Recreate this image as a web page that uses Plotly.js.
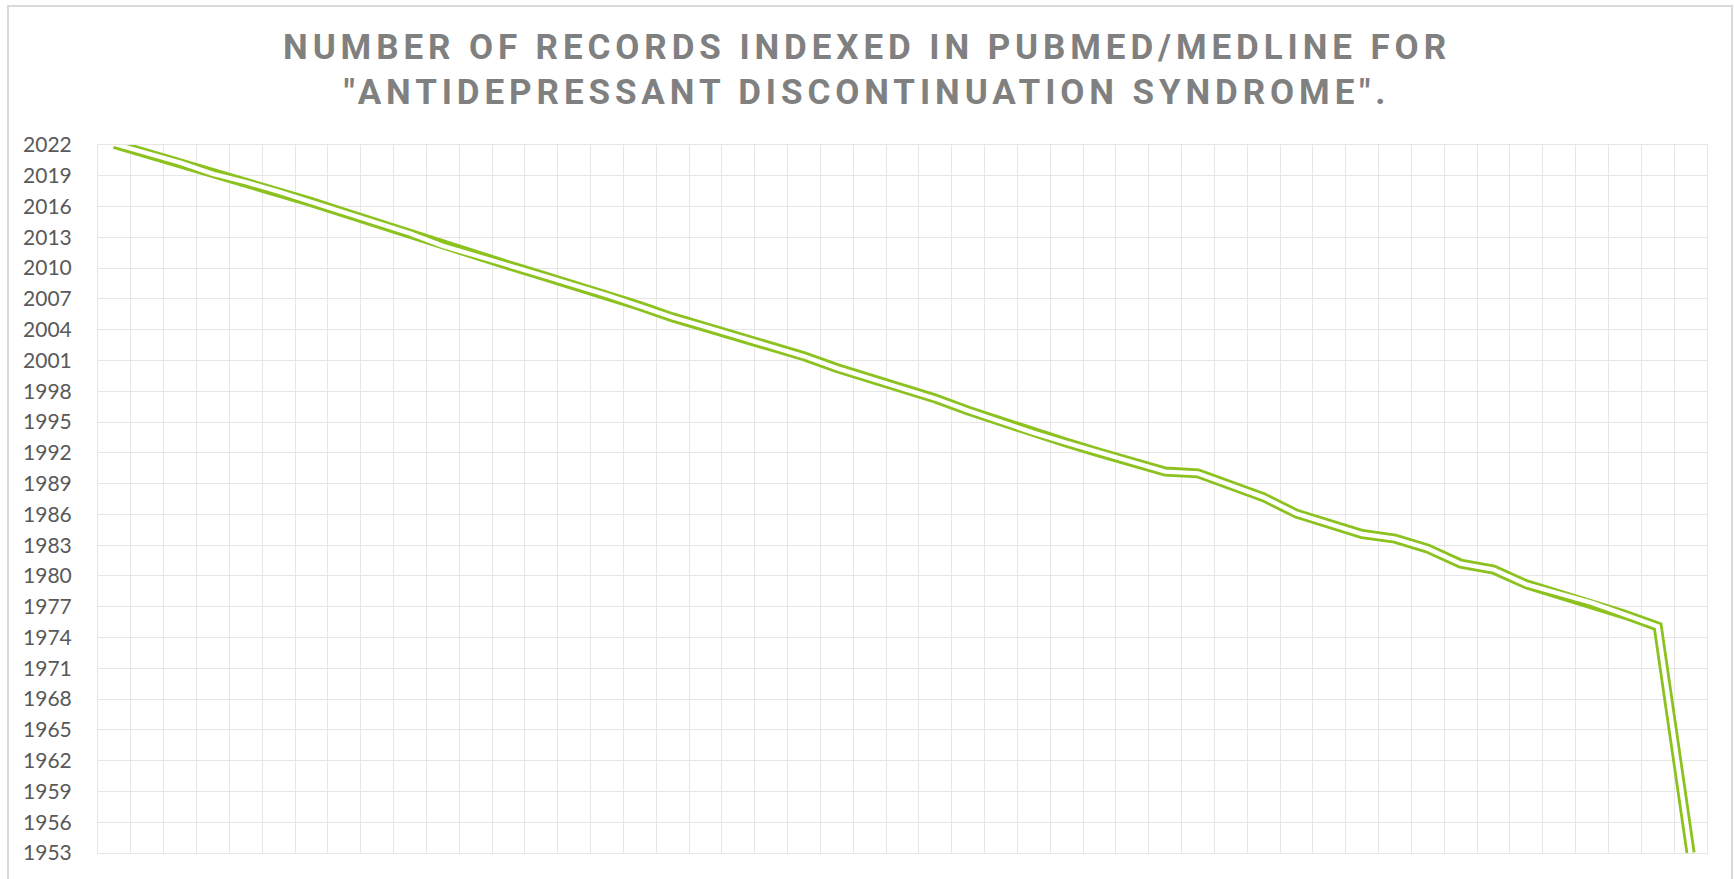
<!DOCTYPE html>
<html>
<head>
<meta charset="utf-8">
<script src="https://cdn.plot.ly/plotly-3.0.1.min.js"></script>
<style>
  html, body { margin: 0; padding: 0; background: #ffffff; }
  #chart { width: 1734px; height: 879px; }
</style>
</head>
<body>
<div id="chart"></div>
<script>
// Category positions (rows of the source table; the chart shows no category labels)
const categoryIndex = [0,1,2,3,4,5,6,7,8,9,10,11,12,13,14,15,16,17,18,19,20,21,22,23,24,25,26,27,28,29,30,31,32,33,34,35,36,37,38,39,40,41,42,43,44,45,46,47,48];

// Plotted values
const seriesValues = [
  2022.1, 2021.19, 2020.29, 2019.19, 2018.38, 2017.45, 2016.43, 2015.39, 2014.35, 2013.39,
  2012.17, 2011.26, 2010.28, 2009.31, 2008.37, 2007.36, 2006.30, 2005.20, 2004.27, 2003.33,
  2002.42, 2001.41, 2000.26, 1999.30, 1998.29, 1997.29, 1996.11, 1994.98, 1993.94, 1992.97,
  1992.00, 1991.08, 1990.17, 1990.00, 1988.85, 1987.66, 1986.07, 1985.10, 1984.09, 1983.64,
  1982.66, 1981.20, 1980.62, 1979.18, 1978.27, 1977.38, 1976.23, 1975.08, 1953.0
];

// Value axis ticks
const yTickValues = [1953,1956,1959,1962,1965,1968,1971,1974,1977,1980,1983,1986,1989,1992,1995,1998,2001,2004,2007,2010,2013,2016,2019,2022];

const titleText = 'NUMBER OF RECORDS INDEXED IN PUBMED/MEDLINE FOR<br>"ANTIDEPRESSANT DISCONTINUATION SYNDROME".';

const green = '#8cc21f';

const traces = [
  { x: categoryIndex, y: seriesValues, type: 'scatter', mode: 'lines',
    line: { color: green, width: 10 }, hoverinfo: 'skip', showlegend: false },
  { x: categoryIndex, y: seriesValues, type: 'scatter', mode: 'lines',
    line: { color: '#ffffff', width: 4.4 }, hoverinfo: 'skip', showlegend: false }
];

const gridColor = '#e6e6e6';

const layout = {
  width: 1734, height: 879,
  paper_bgcolor: '#ffffff', plot_bgcolor: '#ffffff',
  margin: { l: 98, r: 27, t: 145, b: 26, pad: 0 },
  showlegend: false,
  title: {
    text: titleText,
    x: 0.5, xref: 'container', xanchor: 'center',
    y: 0.933, yref: 'container', yanchor: 'top',
    font: { family: 'Roboto, "Open Sans", sans-serif', size: 35, color: '#808080', weight: 'bold' }
  },
  xaxis: {
    range: [-0.5, 48.5], tick0: -0.5, dtick: 1,
    showgrid: true, gridcolor: gridColor, gridwidth: 1,
    showticklabels: false, ticks: '', zeroline: false,
    showline: true, mirror: true, linecolor: gridColor, linewidth: 1,
    fixedrange: true
  },
  yaxis: {
    range: [1953, 2022], tickvals: yTickValues, ticktext: yTickValues.map(String),
    showgrid: true, gridcolor: gridColor, gridwidth: 1,
    ticks: '', zeroline: false, ticklabelstandoff: 21,
    showline: true, mirror: true, linecolor: gridColor, linewidth: 1,
    tickfont: { family: 'Lato, "Open Sans", sans-serif', size: 21, color: '#595959' },
    fixedrange: true
  },
  shapes: [
    { type: 'rect', xref: 'paper', yref: 'paper',
      x0: (8 - 98) / 1609, x1: (1732 - 98) / 1609,
      y0: (853 - 900) / 708, y1: (853 - 6) / 708,
      line: { color: '#d9d9d9', width: 2 }, fillcolor: 'rgba(0,0,0,0)', layer: 'below' }
  ]
};

Plotly.newPlot('chart', traces, layout, { displayModeBar: false, staticPlot: true }).then(() => {
  document.querySelectorAll('.gtitle').forEach(el => { el.style.letterSpacing = '4.9px'; });
});
</script>
</body>
</html>
